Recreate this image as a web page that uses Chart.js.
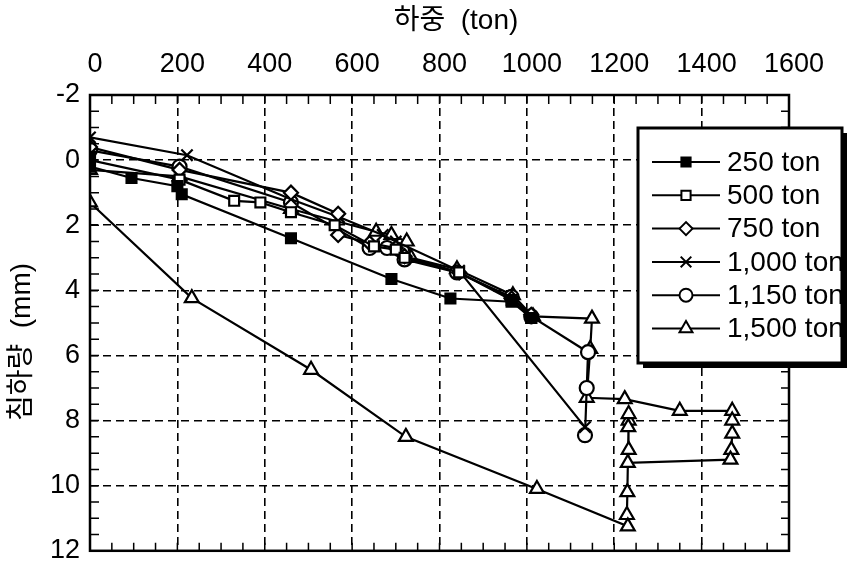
<!DOCTYPE html>
<html>
<head>
<meta charset="utf-8">
<script src="https://cdn.jsdelivr.net/npm/chart.js@4"></script>
<style>
  html, body { margin: 0; padding: 0; background: #fff; }
  canvas { display: block; }
</style>
</head>
<body>
<canvas id="chart" width="853" height="577"></canvas>
<script>
// load (ton) and settlement (mm) per test series
const seriesNames = ['250 ton', '500 ton', '750 ton', '1,000 ton', '1,150 ton', '1,500 ton'];

const load250 = [0, 0, 95, 200, 210, 460, 690, 825, 965, 1010];
const settle250 = [-0.1, 0.2, 0.55, 0.8, 1.05, 2.4, 3.65, 4.25, 4.35, 4.85];

const load500 = [0, 205, 330, 390, 460, 560, 650, 700, 720, 845, 965, 1010];
const settle500 = [0.0, 0.6, 1.25, 1.3, 1.6, 2.0, 2.65, 2.75, 3.0, 3.45, 4.3, 4.85];

const load750 = [0, 205, 460, 568, 568, 640, 700, 720, 845, 965, 1010];
const settle750 = [-0.4, 0.3, 1.0, 1.65, 2.3, 2.55, 2.7, 2.95, 3.45, 4.25, 4.75];

const load1000 = [0, 222, 460, 570, 670, 700, 845, 1133];
const settle1000 = [-0.7, -0.15, 1.2, 1.75, 2.3, 2.5, 3.4, 8.2];

const load1150 = [0, 205, 460, 640, 680, 720, 840, 965, 1010, 1140, 1137, 1133];
const settle1150 = [-0.3, 0.2, 1.3, 2.7, 2.7, 3.05, 3.45, 4.2, 4.8, 5.9, 7.0, 8.45];

const load1500 = [0, 205, 460, 655, 690, 725, 735, 840, 968, 1014, 1149, 1145, 1137, 1224, 1350, 1470,
  1470, 1470, 1468, 1466, 1231, 1233, 1233, 1233, 1232, 1230, 1229, 1231, 1023, 723, 506, 233, 0];
const settle1500 = [0.3, 0.5, 1.5, 2.2, 2.3, 2.5, 3.0, 3.35, 4.15, 4.8, 4.87, 5.8, 7.3, 7.34, 7.7, 7.7,
  8.0, 8.4, 8.9, 9.2, 9.3, 8.9, 8.0, 7.8, 8.2, 10.2, 10.9, 11.25, 10.1, 8.5, 6.44, 4.24, 1.3];

const loadTicks = [0, 200, 400, 600, 800, 1000, 1200, 1400, 1600];
const settleTicks = [-2, 0, 2, 4, 6, 8, 10, 12];

const xTitle = '하중  (ton)';
const yTitle = '침하량  (mm)';

const FONT = "'Liberation Sans', 'Noto Sans CJK KR', sans-serif";

function zip(xs, ys) {
    return xs.map((v, i) => ({ x: v, y: ys[i] }));
}

const markerStyles = [
    { pointStyle: 'rect', fill: '#000', radius: 7 },
    { pointStyle: 'rect', fill: '#fff', radius: 7 },
    { pointStyle: 'rectRot', fill: '#fff', radius: 7 },
    { pointStyle: 'crossRot', fill: '#fff', radius: 8 },
    { pointStyle: 'circle', fill: '#fff', radius: 7 },
    { pointStyle: 'triangle', fill: '#fff', radius: 8 }
];

const seriesData = [
    zip(load250, settle250),
    zip(load500, settle500),
    zip(load750, settle750),
    zip(load1000, settle1000),
    zip(load1150, settle1150),
    zip(load1500, settle1500)
];

const datasets = seriesNames.map((name, i) => ({
    label: name,
    data: seriesData[i],
    showLine: true,
    borderColor: '#000',
    borderWidth: 2.2,
    pointStyle: markerStyles[i].pointStyle,
    pointRadius: markerStyles[i].radius,
    pointBackgroundColor: markerStyles[i].fill,
    pointBorderColor: '#000',
    pointBorderWidth: 2.2
}));

// frame, inward minor ticks, axis titles and boxed legend
const framePlugin = {
    id: 'frame',
    afterDraw(chart) {
        const { ctx, chartArea: a, scales: { x, y } } = chart;
        ctx.save();
        ctx.strokeStyle = '#000';
        ctx.lineWidth = 1.5;
        ctx.beginPath();
        for (let v = 0; v <= 1600; v += 50) {
            const px = x.getPixelForValue(v);
            ctx.moveTo(px, a.top); ctx.lineTo(px, a.top + 9);
            ctx.moveTo(px, a.bottom); ctx.lineTo(px, a.bottom - 8);
        }
        for (let v = -2; v <= 12; v += 0.5) {
            const py = y.getPixelForValue(v);
            ctx.moveTo(a.left, py); ctx.lineTo(a.left + 9, py);
            ctx.moveTo(a.right, py); ctx.lineTo(a.right - 8, py);
        }
        ctx.stroke();
        ctx.lineWidth = 2.5;
        ctx.strokeRect(a.left, a.top, a.right - a.left, a.bottom - a.top);

        // axis titles
        ctx.fillStyle = '#000';
        ctx.font = '28px ' + FONT;
        ctx.textAlign = 'center';
        ctx.textBaseline = 'middle';
        ctx.fillText(xTitle, 456, 21);
        ctx.save();
        ctx.translate(22, 342);
        ctx.rotate(-Math.PI / 2);
        ctx.fillText(yTitle, 0, 0);
        ctx.restore();

        // legend box
        const bx = 638, by = 128, bw = 204, bh = 235;
        ctx.fillStyle = '#000';
        ctx.fillRect(bx + 5, by + 5, bw, bh);
        ctx.fillStyle = '#fff';
        ctx.fillRect(bx, by, bw, bh);

        ctx.font = '28px ' + FONT;
        ctx.textBaseline = 'middle';
        ctx.textAlign = 'left';
        seriesNames.forEach((name, i) => {
            const ry = by + 34 + i * 33.3;
            ctx.strokeStyle = '#000';
            ctx.lineWidth = 2;
            ctx.beginPath();
            ctx.moveTo(652, ry); ctx.lineTo(720, ry);
            ctx.stroke();
            const m = markerStyles[i];
            ctx.fillStyle = m.fill;
            Chart.helpers.drawPoint(ctx, {
                pointStyle: m.pointStyle, radius: m.radius - 0.5, borderWidth: 2, rotation: 0
            }, 686, ry);
            ctx.fillStyle = '#000';
            ctx.fillText(name, 727, ry + 1);
        });
        ctx.strokeStyle = '#000';
        ctx.lineWidth = 3;
        ctx.strokeRect(bx, by, bw, bh);
        ctx.restore();
    }
};

new Chart(document.getElementById('chart'), {
    type: 'scatter',
    data: { datasets: datasets },
    plugins: [framePlugin],
    options: {
        responsive: false,
        animation: false,
        devicePixelRatio: 1,
        layout: { padding: { left: 0, top: 0, right: 64, bottom: 17 } },
        plugins: {
            legend: { display: false },
            tooltip: { enabled: false }
        },
        scales: {
            x: {
                type: 'linear',
                position: 'top',
                min: 0,
                max: 1600,
                afterBuildTicks: (scale) => { scale.ticks = loadTicks.map(v => ({ value: v })); },
                afterFit: (scale) => { scale.height = 95; },
                ticks: {
                    color: '#000',
                    font: { family: FONT, size: 27 },
                    padding: 14,
                    labelOffset: 5,
                    callback: (v) => String(v)
                },
                grid: { color: '#000', lineWidth: 1.6, drawTicks: false },
                border: { display: false, dash: [8, 5] }
            },
            y: {
                type: 'linear',
                reverse: true,
                min: -2,
                max: 12,
                afterBuildTicks: (scale) => { scale.ticks = settleTicks.map(v => ({ value: v })); },
                afterFit: (scale) => { scale.width = 90; },
                ticks: {
                    color: '#000',
                    font: { family: FONT, size: 27 },
                    padding: 10,
                    callback: (v) => String(v)
                },
                grid: { color: '#000', lineWidth: 1.6, drawTicks: false },
                border: { display: false, dash: [8, 5] }
            }
        }
    }
});
</script>
</body>
</html>
